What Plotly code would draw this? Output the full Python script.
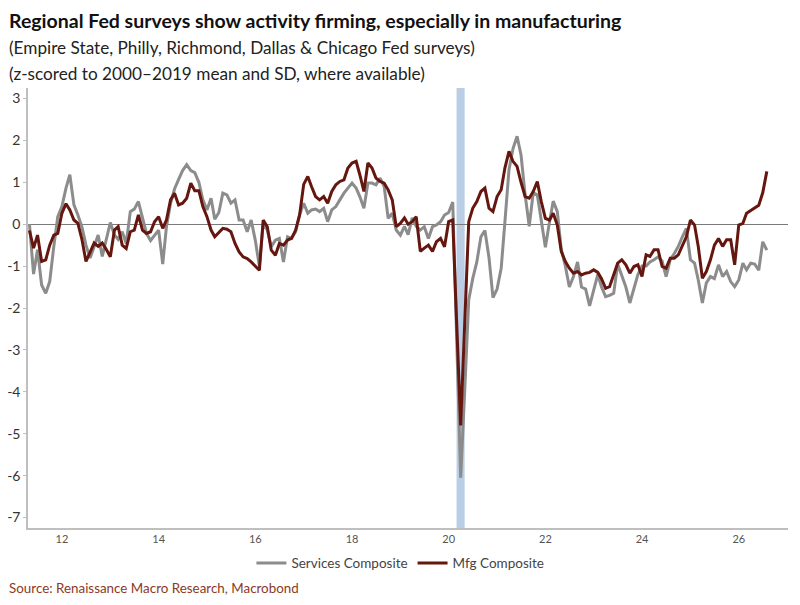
import pandas as pd
import plotly.graph_objects as go

# Monthly observations, May 2011 - Aug 2026
months = pd.date_range("2011-05-01", periods=184, freq="MS")

services = [
    0.0, -1.19, -0.61, -1.45, -1.65, -1.37, -0.53, 0.18, 0.42, 0.86,
    1.18, 0.46, 0.22, -0.07, -0.5, -0.81, -0.53, -0.26, -0.77, -0.34,
    0.04, -0.26, -0.36, -0.18, -0.46, 0.3, 0.36, 0.54, 0.14, -0.22,
    -0.39, -0.28, -0.14, -0.95, -0.06, 0.5, 0.84, 1.07, 1.28, 1.42,
    1.28, 1.23, 1.0, 0.58, 0.34, 0.62, 0.12, 0.28, 0.74, 0.7,
    0.5, 0.58, 0.1, 0.1, -0.18, 0.1, -0.38, -1.0, 0.02, -0.14,
    -0.54, -0.38, -0.34, -0.9, -0.3, -0.34, -0.18, 0.22, 0.5, 0.26,
    0.34, 0.36, 0.3, 0.38, 0.06, 0.34, 0.42, 0.58, 0.74, 0.86,
    0.98, 0.86, 0.66, 0.38, 0.98, 0.98, 0.94, 1.1, 0.9, 0.14,
    0.26, -0.14, -0.26, -0.05, -0.25, 0.15, -0.05, -0.14, -0.06, -0.34,
    -0.06, -0.02, 0.06, 0.22, 0.28, 0.53, -2.8, -6.05, -4.0, -1.8,
    -1.3, -0.9, -0.3, -0.15, -0.8, -1.75, -1.55, -1.05, 0.05, 1.3,
    1.8, 2.1, 1.65, 0.7, -0.05, 0.75, 0.7, 0.05, -0.55, 0.05,
    0.55, 0.3, -0.6, -1.0, -1.5, -1.25, -0.9, -1.5, -1.55, -1.95,
    -1.6, -1.2, -1.5, -1.73, -1.7, -1.65, -0.95, -1.25, -1.5, -1.88,
    -1.5, -1.2, -1.0, -1.0, -0.9, -0.85, -0.78, -0.88, -1.25, -0.85,
    -0.7, -0.53, -0.3, -0.1, -0.85, -0.93, -1.33, -1.88, -1.4, -1.25,
    -1.3, -0.97, -1.25, -1.13, -1.37, -1.49, -1.33, -0.93, -1.09, -0.93,
    -0.95, -1.1, -0.42, -0.62,
]

manufacturing = [
    -0.15, -0.57, -0.26, -0.89, -0.85, -0.5, -0.26, -0.22, 0.26, 0.49,
    0.34, 0.1, 0.02, -0.37, -0.89, -0.69, -0.45, -0.53, -0.45, -0.6,
    -0.78, -0.14, -0.06, -0.5, -0.58, -0.18, -0.14, 0.22, -0.14, -0.22,
    -0.18, 0.06, 0.18, -0.1, 0.1, 0.58, 0.74, 0.46, 0.5, 0.62,
    0.98, 0.8, 0.8, 0.42, 0.18, -0.14, -0.3, -0.2, -0.1, -0.12,
    -0.18, -0.46, -0.66, -0.78, -0.82, -0.9, -1.0, -1.1, 0.1, -0.06,
    -0.62, -0.74, -0.46, -0.5, -0.38, -0.34, -0.14, 0.22, 0.95, 1.14,
    0.9, 0.66, 0.58, 0.66, 0.5, 0.78, 0.94, 1.02, 1.06, 1.34,
    1.46, 1.5, 1.18, 0.78, 1.46, 1.34, 1.1, 1.02, 0.98, 0.82,
    0.58, -0.06, 0.02, 0.15, 0.0, 0.06, 0.18, -0.65, -0.57, -0.5,
    -0.65, -0.42, -0.34, -0.54, 0.06, 0.1, -2.3, -4.8, -2.4, 0.06,
    0.38, 0.54, 0.78, 0.86, 0.38, 0.3, 0.66, 0.82, 1.34, 1.74,
    1.5, 1.38, 1.0, 0.66, 0.62, 0.78, 1.02, 0.54, 0.14, 0.1,
    0.26, -0.02, -0.65, -0.89, -1.05, -1.17, -1.13, -1.21, -1.17, -1.15,
    -1.09, -1.15, -1.3, -1.53, -1.49, -1.21, -0.93, -0.85, -0.97, -1.17,
    -1.01, -0.97, -1.25, -0.73, -0.77, -0.61, -0.61, -1.01, -1.05, -0.81,
    -0.81, -0.73, -0.53, -0.3, 0.1, -0.02, -0.53, -1.29, -1.13, -0.85,
    -0.5, -0.34, -0.53, -0.37, -0.37, -0.97, -0.02, 0.02, 0.26, 0.33,
    0.38, 0.45, 0.75, 1.26,
]

recession_start = "2020-03-01"
recession_end = "2020-05-01"
y_ticks = [3, 2, 1, 0, -1, -2, -3, -4, -5, -6, -7]

title = "Regional Fed surveys show activity firming, especially in manufacturing"
subtitle1 = "(Empire State, Philly, Richmond, Dallas & Chicago Fed surveys)"
subtitle2 = "(z-scored to 2000\u20132019 mean and SD, where available)"
source = "Source: Renaissance Macro Research, Macrobond"

FONT = "Lato"
GRAY = "#8c8c8c"
MAROON = "#65170f"

fig = go.Figure()
fig.add_trace(go.Scatter(x=months, y=services, mode="lines", name="Services Composite",
                         line=dict(color=GRAY, width=3)))
fig.add_trace(go.Scatter(x=months, y=manufacturing, mode="lines", name="Mfg Composite",
                         line=dict(color=MAROON, width=3)))

fig.add_shape(type="rect", xref="x", yref="paper", x0=recession_start, x1=recession_end,
              y0=0, y1=1, fillcolor="#b9cde5", line=dict(width=0), layer="below")

fig.update_layout(
    width=792, height=597,
    margin=dict(l=20, r=12, t=80, b=77, autoexpand=False),
    paper_bgcolor="white", plot_bgcolor="white",
    font=dict(family=FONT, color="#333333"),
    showlegend=True,
    legend=dict(orientation="h", x=0.49, xanchor="center", y=-0.08, yanchor="middle",
                font=dict(size=13.5, color="#444444", family=FONT),
                itemwidth=30, tracegroupgap=0, bgcolor="rgba(0,0,0,0)"),
    xaxis=dict(
        type="date",
        range=["2011-04-20", "2027-01-08"],
        tick0="2012-01-01", dtick="M24", tickformat="%y",
        showgrid=False, zeroline=False,
        showline=True, linecolor="#bfbfbf", linewidth=1.5,
        ticks="", tickfont=dict(size=11, color="#555555", family=FONT),
    ),
    yaxis=dict(
        range=[-7.25, 3.25],
        tickvals=y_ticks, ticktext=[str(v) for v in y_ticks],
        showgrid=False,
        zeroline=True, zerolinecolor="#7a7a7a", zerolinewidth=1,
        showline=True, linecolor="#bfbfbf", linewidth=1.5,
        ticks="outside", ticklen=3, tickcolor="#bfbfbf",
        tickfont=dict(size=14, color="#333333", family=FONT),
    ),
    annotations=[
        dict(text="<b>" + title + "</b>", xref="paper", yref="paper", x=-0.0263, y=1.0,
             xanchor="left", yanchor="top", yshift=80, showarrow=False, borderpad=0,
             font=dict(size=19.5, color="#111111", family=FONT)),
        dict(text=subtitle1, xref="paper", yref="paper", x=-0.0263, y=1.0,
             xanchor="left", yanchor="middle", yshift=41, showarrow=False, borderpad=0,
             font=dict(size=17.2, color="#222222", family=FONT)),
        dict(text=subtitle2, xref="paper", yref="paper", x=-0.0263, y=1.0,
             xanchor="left", yanchor="middle", yshift=15, showarrow=False, borderpad=0,
             font=dict(size=17.2, color="#222222", family=FONT)),
        dict(text=source, xref="paper", yref="paper", x=-0.0263, y=0.0,
             xanchor="left", yanchor="middle", yshift=-60, showarrow=False, borderpad=0,
             font=dict(size=13.4, color="#8b3a26", family=FONT)),
    ],
)

fig.write_html("out.html")
